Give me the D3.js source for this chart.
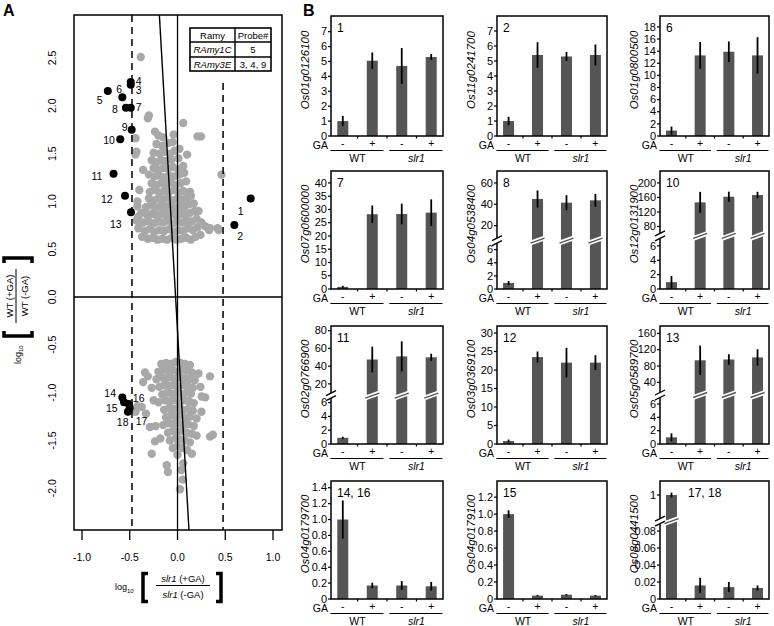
<!DOCTYPE html>
<html>
<head>
<meta charset="utf-8">
<title>GA responsive genes</title>
<style>
  body { margin: 0; background: #fff; }
  svg { font-family: "Liberation Sans", Arial, sans-serif; }
</style>
</head>
<body>
<script src="https://d3js.org/d3.v7.min.js"></script>
<svg id="fig" width="774" height="626"></svg>
<script>
// ---------- panel A : log10 ratios ----------
var grayUp = [
  [-0.37,0.63],[-0.31,0.61],[-0.26,0.62],[-0.21,0.6],[-0.16,0.61],[-0.11,0.6],[-0.06,0.62],[-0.01,0.6],[0.04,0.61],[0.09,0.62],[0.14,0.6],[0.19,0.63],[0.24,0.65],[0.33,0.70],[0.42,0.72],
  [-0.41,0.72],[-0.34,0.69],[-0.29,0.71],[-0.24,0.68],[-0.19,0.7],[-0.14,0.69],[-0.09,0.71],[-0.04,0.68],[0.01,0.7],[0.06,0.69],[0.11,0.72],[0.16,0.7],[0.21,0.73],[0.29,0.74],
  [-0.43,0.8],[-0.36,0.78],[-0.3,0.79],[-0.25,0.77],[-0.2,0.79],[-0.15,0.78],[-0.1,0.8],[-0.05,0.77],[0,0.79],[0.05,0.78],[0.1,0.8],[0.15,0.79],[0.2,0.82],
  [-0.38,0.88],[-0.32,0.86],[-0.27,0.87],[-0.22,0.85],[-0.17,0.87],[-0.12,0.86],[-0.07,0.88],[-0.02,0.85],[0.03,0.87],[0.08,0.86],[0.13,0.88],[0.18,0.9],
  [-0.42,0.95],[-0.33,0.94],[-0.28,0.96],[-0.23,0.93],[-0.18,0.95],[-0.13,0.94],[-0.08,0.96],[-0.03,0.93],[0.02,0.95],[0.07,0.94],[0.12,0.97],[0.17,0.98],
  [-0.3,1.03],[-0.25,1.01],[-0.2,1.03],[-0.15,1.02],[-0.1,1.04],[-0.05,1.01],[0,1.03],[0.05,1.02],[0.1,1.04],[0.14,1.06],
  [-0.4,1.12],[-0.29,1.1],[-0.24,1.12],[-0.19,1.09],[-0.14,1.11],[-0.09,1.1],[-0.04,1.12],[0.01,1.09],[0.06,1.11],[0.13,1.1],
  [-0.27,1.19],[-0.22,1.17],[-0.17,1.19],[-0.12,1.18],[-0.07,1.2],[-0.02,1.17],[0.03,1.19],[0.09,1.21],
  [-0.3,1.28],[-0.24,1.26],[-0.19,1.27],[-0.14,1.25],[-0.09,1.27],[-0.04,1.26],[0.02,1.28],[0.07,1.3],
  [-0.25,1.35],[-0.2,1.33],[-0.15,1.35],[-0.1,1.34],[-0.05,1.36],[0.0,1.34],[0.06,1.37],
  [-0.27,1.43],[-0.22,1.41],[-0.17,1.43],[-0.12,1.42],[-0.06,1.44],[0.01,1.45],
  [-0.25,1.51],[-0.19,1.5],[-0.14,1.52],[-0.08,1.5],[-0.03,1.53],
  [-0.22,1.6],[-0.16,1.58],[-0.1,1.61],[-0.05,1.62],
  [-0.385,2.51],[-0.3,1.9],[-0.31,1.87],[-0.236,1.73],[0.06,1.82],[0.21,1.68],[0.245,1.68],[-0.44,1.66],[-0.15,1.67],
  [-0.43,1.52],[-0.44,1.49],[0.1,1.49],[0.46,1.28],[0.13,1.1],[0.34,0.72],[0.43,0.7],[-0.42,1.0],[-0.41,0.84],
  [0.22,0.9],[0.25,0.78],[-0.36,1.33],[-0.2,1.69],[0.02,1.55],[-0.04,1.7]
];
var grayDown = [
  [-0.17,-0.7],[-0.12,-0.69],[-0.07,-0.7],[-0.02,-0.68],[0.03,-0.69],[0.08,-0.7],[0.13,-0.71],
  [-0.2,-0.78],[-0.15,-0.76],[-0.1,-0.77],[-0.05,-0.76],[0,-0.78],[0.05,-0.76],[0.1,-0.77],[0.15,-0.79],[0.22,-0.8],
  [-0.22,-0.86],[-0.17,-0.84],[-0.12,-0.85],[-0.07,-0.84],[-0.02,-0.86],[0.03,-0.84],[0.08,-0.85],[0.13,-0.86],[0.18,-0.87],
  [-0.19,-0.94],[-0.14,-0.92],[-0.09,-0.93],[-0.04,-0.92],[0.01,-0.94],[0.06,-0.92],[0.11,-0.93],[0.16,-0.95],
  [-0.16,-1.02],[-0.11,-1.0],[-0.06,-1.01],[-0.01,-1.0],[0.04,-1.02],[0.09,-1.0],[0.14,-1.01],
  [-0.2,-1.1],[-0.13,-1.08],[-0.08,-1.09],[-0.03,-1.08],[0.02,-1.1],[0.07,-1.08],[0.12,-1.09],[0.17,-1.11],
  [-0.14,-1.18],[-0.09,-1.16],[-0.04,-1.17],[0.01,-1.16],[0.06,-1.18],[0.11,-1.17],[0.16,-1.19],
  [-0.12,-1.26],[-0.07,-1.24],[-0.02,-1.25],[0.03,-1.24],[0.08,-1.26],[0.13,-1.25],[0.2,-1.27],
  [-0.15,-1.34],[-0.09,-1.32],[-0.04,-1.33],[0.01,-1.32],[0.06,-1.34],[0.11,-1.33],[0.17,-1.35],
  [-0.1,-1.42],[-0.05,-1.4],[0,-1.41],[0.05,-1.4],[0.1,-1.42],[0.15,-1.43],
  [-0.08,-1.5],[-0.02,-1.48],[0.03,-1.49],[0.08,-1.5],[0.13,-1.52],
  [-0.05,-1.58],[0.0,-1.56],[0.05,-1.58],[0.1,-1.6],
  [-0.34,-0.79],[-0.36,-0.89],[-0.31,-0.83],[-0.375,-1.15],[-0.33,-1.22],[-0.29,-1.36],[-0.23,-1.35],[-0.236,-1.51],
  [-0.27,-1.64],[-0.113,-1.76],[-0.1,-1.83],[0.054,-1.91],[0.026,-2.01],[0.34,-1.46],[0.37,-1.44],[0.15,-1.64],
  [0.06,-1.74],[0.253,-1.04],[0.29,-1.05],[0.34,-0.83],[0.24,-0.94],[-0.27,-0.95],[-0.42,-1.14],[-0.44,-1.2],
  [-0.25,-1.08],[0.2,-1.45],[0.25,-1.2],[-0.18,-1.48],[0.0,-1.65],[0.04,-1.81]
];
var probeIds = [1, 2, 3, 4, 5, 6, 7, 8, 9, 10, 11, 12, 13, 14, 15, 16, 17, 18];
var probeX = [0.766, 0.595, -0.49, -0.49, -0.73, -0.578, -0.49, -0.54, -0.48, -0.6, -0.67, -0.55, -0.487, -0.578, -0.56, -0.51, -0.50, -0.52];
var probeY = [1.03, 0.753, 2.22, 2.25, 2.155, 2.09, 1.98, 1.98, 1.75, 1.65, 1.29, 1.06, 0.886, -1.05, -1.10, -1.12, -1.16, -1.20];
var fitLine = [[-0.19, 2.95], [0.12, -2.44]];
var cutoff = 0.477;
var xTicksA = [-1, -0.5, 0, 0.5, 1];
var yTicksA = [-2, -1.5, -1, -0.5, 0, 0.5, 1, 1.5, 2, 2.5];
var tableRows = [["Ramy", "Probe#"], ["RAmy1C", "5"], ["RAmy3E", "3, 4, 9"]];

// ---------- panel B : relative expression ----------
var panelNums = ["1", "2", "6", "7", "8", "10", "11", "12", "13", "14, 16", "15", "17, 18"];
var genes = ["Os01g0126100", "Os11g0241700", "Os01g0800500", "Os07g0600000", "Os04g0538400", "Os12g0131900",
             "Os02g0766900", "Os03g0369100", "Os05g0589700", "Os04g0179700", "Os04g0179100", "Os08g0441500"];
var gaLabels = ["-", "+", "-", "+"];
var strains = ["WT", "slr1"];
var means = [
  [1.0, 5.05, 4.7, 5.3], [1.0, 5.4, 5.3, 5.4], [0.9, 13.3, 13.9, 13.3],
  [0.8, 28.2, 28.3, 28.8], [0.92, 45, 41.5, 43.7], [0.95, 146.5, 162, 166.7],
  [0.9, 47.5, 51, 50], [0.8, 23.5, 22, 22], [1.0, 94, 96, 101],
  [1.0, 0.17, 0.17, 0.16], [1.0, 0.04, 0.05, 0.04], [1.0, 0.016, 0.014, 0.013]
];
var sds = [
  [0.35, 0.55, 1.2, 0.2], [0.28, 0.85, 0.3, 0.7], [0.65, 2.2, 1.7, 3.0],
  [0.4, 3.3, 3.9, 5.0], [0.3, 8, 7, 6], [0.85, 29, 14, 9],
  [0.15, 14.5, 17, 4], [0.4, 1.5, 4, 2], [0.6, 36, 13, 20],
  [0.24, 0.035, 0.055, 0.055], [0.045, 0.008, 0.008, 0.008], [0.04, 0.009, 0.006, 0.003]
];
var yMax = [8.05, 8, 19.8, 44.5, null, null, null, 31.9, null, 1.485, 1.39, null];
var yTicks = [
  [0, 1, 2, 3, 4, 5, 6, 7], [0, 1, 2, 3, 4, 5, 6, 7], [0, 2, 4, 6, 8, 10, 12, 14, 16, 18],
  [0, 5, 10, 15, 20, 25, 30, 35, 40], [0, 2, 4, 6], [0, 2, 4, 6],
  [0, 2, 4, 6], [0, 5, 10, 15, 20, 25, 30], [0, 2, 4, 6],
  [0, 0.2, 0.4, 0.6, 0.8, 1.0, 1.2, 1.4], [0, 0.2, 0.4, 0.6, 0.8, 1.0, 1.2], [0, 0.02, 0.04, 0.06, 0.08]
];
var hiTicks = [null, null, null, null, [20, 40, 60], [80, 120, 160, 200],
               [20, 40, 60, 80], null, [40, 80, 120, 160], null, null, [1]];
var lowMax = [null, null, null, null, 7.07, 7.1, 6.72, null, 7.05, null, null, 0.0894];
var hiDomain = [null, null, null, null, [7.8, 71.2], [59.5, 233], [9, 85.3], null, [13.8, 178], null, null, [0.6, 1.233]];

// ---------- layout ----------
var colX = [331, 497, 660], colW = [112, 110, 109];
var rowY = [16, 171, 326, 481], rowH = [120, 118, 118, 118];
var breakFrac = [0, 0, 0, 0, 0.41, 0.45, 0.41, 0, 0.415, 0, 0, 0.66];
var numDx = [6, 6, 6, 6, 6, 6, 6, 6, 6, 6, 6, 28];
var labelOff = {1: [-13, 16], 2: [3, 15], 3: [5, 9], 4: [5, 3], 5: [-11, 13], 6: [-6, -4], 7: [5, 3], 8: [-14, 5], 9: [-10, 1],
  10: [-17, 5], 11: [-22, 6], 12: [-24, 7], 13: [-21, 16], 14: [-18, 0], 15: [-18, 10], 16: [4, -2], 17: [6, 17], 18: [-11, 14]};
var barColor = "#555555", dotGray = "#a8a8a8";

var svg = d3.select("#fig");

// panel letters
svg.append("text").attr("x", 3).attr("y", 16).attr("font-size", 16).attr("font-weight", "bold").text("A");
svg.append("text").attr("x", 303).attr("y", 16).attr("font-size", 16).attr("font-weight", "bold").text("B");

// ================= panel A =================
var xA = d3.scaleLinear().domain([-1.084, 1.094]).range([74, 282]);
var yA = d3.scaleLinear().domain([-2.437, 2.95]).range([530, 15]);
var gA = svg.append("g");

gA.selectAll(".gdot").data(grayUp.concat(grayDown)).enter().append("circle")
  .attr("cx", function(d) { return xA(d[0]); })
  .attr("cy", function(d) { return yA(d[1]); })
  .attr("r", 4.2).attr("fill", dotGray);

// reference lines
gA.append("line").attr("x1", xA.range()[0]).attr("x2", xA.range()[1]).attr("y1", yA(0)).attr("y2", yA(0))
  .attr("stroke", "#000").attr("stroke-width", 1.3);
gA.append("line").attr("x1", xA(0)).attr("x2", xA(0)).attr("y1", yA.range()[0]).attr("y2", yA.range()[1])
  .attr("stroke", "#000").attr("stroke-width", 1.3);
gA.append("line").attr("x1", xA(-cutoff)).attr("x2", xA(-cutoff)).attr("y1", yA.range()[1]).attr("y2", yA.range()[0])
  .attr("stroke", "#000").attr("stroke-width", 1.5).attr("stroke-dasharray", "7,5");
gA.append("line").attr("x1", xA(cutoff)).attr("x2", xA(cutoff)).attr("y1", 83).attr("y2", yA.range()[0])
  .attr("stroke", "#000").attr("stroke-width", 1.5).attr("stroke-dasharray", "7,5");
gA.append("line").attr("x1", xA(fitLine[0][0])).attr("y1", yA(fitLine[0][1]))
  .attr("x2", xA(fitLine[1][0])).attr("y2", yA(fitLine[1][1]))
  .attr("stroke", "#000").attr("stroke-width", 1.4);

// black probes
probeIds.forEach(function(p, i) {
  var cx = xA(probeX[i]), cy = yA(probeY[i]);
  gA.append("circle").attr("cx", cx).attr("cy", cy).attr("r", 4).attr("fill", "#000");
  gA.append("text").attr("x", cx + labelOff[p][0]).attr("y", cy + labelOff[p][1])
    .attr("font-size", 10.5).text(p);
});

gA.append("rect").attr("x", 74).attr("y", 15).attr("width", 208).attr("height", 515)
  .attr("fill", "none").attr("stroke", "#000").attr("stroke-width", 1.5);

// axes
xTicksA.forEach(function(t) {
  gA.append("line").attr("x1", xA(t)).attr("x2", xA(t)).attr("y1", 530).attr("y2", 540)
    .attr("stroke", "#000").attr("stroke-width", 1.3);
  gA.append("text").attr("x", xA(t)).attr("y", 561).attr("text-anchor", "middle")
    .attr("font-size", 10.5).text(t.toFixed(1));
});
yTicksA.forEach(function(t) {
  gA.append("text").attr("transform", "translate(56," + yA(t) + ") rotate(-90)")
    .attr("text-anchor", "middle").attr("font-size", 10.5).text(t.toFixed(1));
});

// table
var tb = gA.append("g");
var tX = [190, 235, 271], tY = [28, 42, 57, 71];
tb.append("rect").attr("x", tX[0]).attr("y", tY[0]).attr("width", tX[2] - tX[0]).attr("height", tY[3] - tY[0])
  .attr("fill", "#fff").attr("stroke", "#000").attr("stroke-width", 1.6);
[tY[1], tY[2]].forEach(function(yy) {
  tb.append("line").attr("x1", tX[0]).attr("x2", tX[2]).attr("y1", yy).attr("y2", yy).attr("stroke", "#000").attr("stroke-width", 1.4);
});
tb.append("line").attr("x1", tX[1]).attr("x2", tX[1]).attr("y1", tY[0]).attr("y2", tY[3]).attr("stroke", "#000").attr("stroke-width", 1.4);
tableRows.forEach(function(r, i) {
  tb.append("text").attr("x", (tX[0] + tX[1]) / 2).attr("y", tY[i] + 10.5).attr("text-anchor", "middle")
    .attr("font-size", 9.5).attr("font-style", i > 0 ? "italic" : "normal").text(r[0]);
  tb.append("text").attr("x", (tX[1] + tX[2]) / 2).attr("y", tY[i] + 10.5).attr("text-anchor", "middle")
    .attr("font-size", 9.5).text(r[1]);
});

// ratio axis labels: log10 [ num / den ]
function ratioLabel(g, strain) {
  var lg = g.append("text").attr("x", -68).attr("y", 4.5).attr("font-size", 9);
  lg.append("tspan").text("log");
  lg.append("tspan").attr("font-size", 6).attr("dy", 2.5).text("10");
  g.append("path").attr("d", "M -35 -12 H -40 V 16 H -35").attr("fill", "none").attr("stroke", "#000").attr("stroke-width", 3.5);
  g.append("path").attr("d", "M 33 -12 H 38 V 16 H 33").attr("fill", "none").attr("stroke", "#000").attr("stroke-width", 3.5);
  g.append("line").attr("x1", -27).attr("x2", 27).attr("y1", 0).attr("y2", 0).attr("stroke", "#000").attr("stroke-width", 1);
  [["(+GA)", -3.5], ["(-GA)", 12]].forEach(function(p) {
    var t = g.append("text").attr("x", 0).attr("y", p[1]).attr("text-anchor", "middle").attr("font-size", 9.5);
    t.append("tspan").attr("font-style", strain === "slr1" ? "italic" : "normal").text(strain);
    t.append("tspan").text(" " + p[0]);
  });
}
ratioLabel(svg.append("g").attr("transform", "translate(183,585.5)"), "slr1");
ratioLabel(svg.append("g").attr("transform", "translate(16,296) rotate(-90)"), "WT");

// ================= panel B =================
function decimals(v) {
  var s = String(v);
  return s.indexOf(".") < 0 ? 0 : s.length - s.indexOf(".") - 1;
}
function fmtTicks(ticks) {
  var dec = d3.max(ticks, decimals);
  return function(v) { return v === 0 ? "0" : v.toFixed(dec); };
}

function breakMark(g, xl, xr, by, dark) {
  var s = 2.5;
  g.append("path").attr("d", "M" + xl + "," + (by + s + 2.5) + " L" + xr + "," + (by - s + 2.5) +
      " L" + xr + "," + (by - s - 2.5) + " L" + xl + "," + (by + s - 2.5) + "Z")
    .attr("fill", "#fff");
  if (dark) {
    g.append("line").attr("x1", xl).attr("y1", by + s).attr("x2", xr).attr("y2", by - s)
      .attr("stroke", barColor).attr("stroke-width", 1.4);
  }
}

means.forEach(function(m, i) {
  var col = i % 3, row = Math.floor(i / 3);
  var x0 = colX[col], w = colW[col], y0 = rowY[row], h = rowH[row], yb = y0 + h;
  var g = svg.append("g");
  var xs = d3.scalePoint().domain(d3.range(4)).range([x0, x0 + w]).padding(0.4);
  var bw = 11;
  var broken = hiTicks[i] !== null, by = yb - breakFrac[i] * h, y;
  if (broken) {
    var lo = d3.scaleLinear().domain([0, lowMax[i]]).range([yb, by + 2]);
    var hi = d3.scaleLinear().domain(hiDomain[i]).range([by - 2, y0]);
    y = function(v) { return v <= lowMax[i] ? lo(v) : hi(Math.max(v, hiDomain[i][0])); };
  } else {
    y = d3.scaleLinear().domain([0, yMax[i]]).range([yb, y0]);
  }

  m.forEach(function(v, j) {
    var cx = xs(j);
    g.append("rect").attr("x", cx - bw / 2).attr("y", y(v)).attr("width", bw).attr("height", yb - y(v))
      .attr("fill", barColor);
    var lowV = Math.max(v - sds[i][j], 0);
    if (broken && v > lowMax[i]) lowV = Math.max(lowV, hiDomain[i][0]);
    g.append("line").attr("x1", cx).attr("x2", cx).attr("y1", y(v + sds[i][j])).attr("y2", y(lowV))
      .attr("stroke", "#000").attr("stroke-width", 1.8);
    if (broken && v > lowMax[i]) breakMark(g, cx - bw / 2 - 1.5, cx + bw / 2 + 1.5, by, true);
  });

  g.append("rect").attr("x", x0).attr("y", y0).attr("width", w).attr("height", h)
    .attr("fill", "none").attr("stroke", "#000").attr("stroke-width", 1.5);

  // y ticks
  var tickSets = [yTicks[i]];
  if (broken) tickSets.push(hiTicks[i]);
  tickSets.forEach(function(ts) {
    var f = fmtTicks(ts);
    ts.forEach(function(t) {
      g.append("line").attr("x1", x0 - 3).attr("x2", x0).attr("y1", y(t)).attr("y2", y(t))
        .attr("stroke", "#000").attr("stroke-width", 1.2);
      g.append("text").attr("x", x0 - 4).attr("y", y(t)).attr("dy", "0.34em").attr("text-anchor", "end")
        .attr("font-size", 11).text(f(t));
    });
  });
  if (broken) {
    breakMark(g, x0 - 5, x0 + 5, by, false);
    [-2.5, 2.5].forEach(function(o) {
      g.append("line").attr("x1", x0 - 5).attr("y1", by + 2.5 + o).attr("x2", x0 + 5).attr("y2", by - 2.5 + o)
        .attr("stroke", "#000").attr("stroke-width", 1.3);
    });
  }

  // bottom ticks between bars
  for (var j = 0; j < 3; j++) {
    var mx = (xs(j) + xs(j + 1)) / 2;
    g.append("line").attr("x1", mx).attr("x2", mx).attr("y1", yb).attr("y2", yb + 2.5)
      .attr("stroke", "#000").attr("stroke-width", 1.2);
  }

  // GA row and strain groups
  g.append("text").attr("x", x0 - 3).attr("y", yb + 12.5).attr("text-anchor", "end").attr("font-size", 10.5).text("GA");
  gaLabels.forEach(function(l, j) {
    g.append("text").attr("x", xs(j)).attr("y", yb + 11).attr("text-anchor", "middle").attr("font-size", 10.5).text(l);
  });
  var st = xs.step();
  strains.forEach(function(s, k) {
    var a = xs(2 * k), b = xs(2 * k + 1);
    g.append("line").attr("x1", a - 0.42 * st).attr("x2", b + 0.38 * st).attr("y1", yb + 14.5).attr("y2", yb + 14.5)
      .attr("stroke", "#000").attr("stroke-width", 1.2);
    g.append("text").attr("x", (a + b) / 2).attr("y", yb + 25.5).attr("text-anchor", "middle")
      .attr("font-size", 10.5).attr("font-style", k === 1 ? "italic" : "normal").text(s);
  });

  // panel number and gene name
  g.append("text").attr("x", x0 + numDx[i]).attr("y", y0 + 16).attr("font-size", 12).text(panelNums[i]);
  g.append("text").attr("transform", "translate(" + (x0 - 22) + "," + (y0 + h / 2 - 6) + ") rotate(-90)")
    .attr("text-anchor", "middle").attr("font-size", 11.5).attr("font-style", "italic").text(genes[i]);
});
</script>
</body>
</html>
